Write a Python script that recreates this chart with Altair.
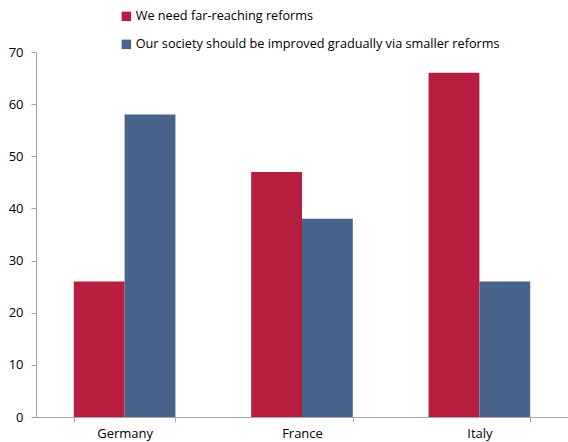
import altair as alt
import pandas as pd

countries = ["Germany", "France", "Italy"]
series = ["We need far-reaching reforms",
          "Our society should be improved gradually via smaller reforms"]
far_reaching = [26, 47, 66]
gradual = [58, 38, 26]

rows = []
for c, a, b in zip(countries, far_reaching, gradual):
    rows.append({"country": c, "series": series[0], "value": a})
    rows.append({"country": c, "series": series[1], "value": b})
df = pd.DataFrame(rows)

FONT = "Open Sans"
axis_col = "#A6A6A6"

chart = alt.Chart(df).mark_bar().encode(
    x=alt.X("country:N", sort=countries, title=None,
            scale=alt.Scale(paddingInner=0.427, paddingOuter=0.213),
            axis=alt.Axis(labelAngle=0, tickBand="extent", domainColor=axis_col,
                          tickColor=axis_col, tickSize=5, labelFontSize=13,
                          labelColor="#000", labelPadding=5, labelFont=FONT)),
    xOffset=alt.XOffset("series:N", sort=series),
    y=alt.Y("value:Q", title=None,
            scale=alt.Scale(domain=[0, 70]),
            axis=alt.Axis(values=list(range(0, 71, 10)), grid=False,
                          domainColor=axis_col, tickColor=axis_col, tickSize=5,
                          labelFontSize=13, labelColor="#000", labelPadding=8,
                          labelFont=FONT)),
    color=alt.Color("series:N", sort=series,
                    scale=alt.Scale(domain=series, range=["#B81E40", "#48648A"]),
                    legend=alt.Legend(title=None, orient="none", legendX=84, legendY=-42,
                                      direction="vertical", symbolType="square",
                                      symbolSize=90, symbolStrokeWidth=0,
                                      labelFontSize=12.7, labelFont=FONT, labelLimit=0,
                                      labelColor="#000", rowPadding=14, labelOffset=3)),
).properties(
    width=532, height=365,
    autosize=alt.AutoSizeParams(type="none"),
    padding={"left": 36, "top": 52, "right": 0, "bottom": 25},
).configure_view(stroke=None)

chart.save("out.html", embed_options={"renderer": "svg", "actions": False})
